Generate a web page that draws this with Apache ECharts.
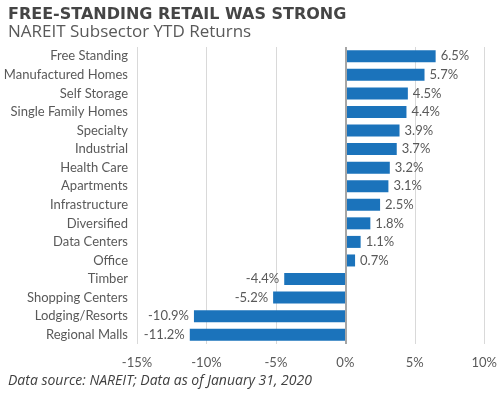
<!DOCTYPE html>
<html>
<head>
<meta charset="utf-8">
<style>
  html, body { margin: 0; padding: 0; background: #fff; }
  #chart { width: 500px; height: 396px; }
</style>
<script src="https://cdn.jsdelivr.net/npm/echarts@6/dist/echarts.min.js"></script>
</head>
<body>
<div id="chart"></div>
<script>
  // 子行业及年初至今回报 (%)
  var sectors = ['Free Standing', 'Manufactured Homes', 'Self Storage', 'Single Family Homes',
    'Specialty', 'Industrial', 'Health Care', 'Apartments', 'Infrastructure', 'Diversified',
    'Data Centers', 'Office', 'Timber', 'Shopping Centers', 'Lodging/Resorts', 'Regional Malls'];
  var returns = [6.5, 5.7, 4.5, 4.4, 3.9, 3.7, 3.2, 3.1, 2.5, 1.8, 1.1, 0.7, -4.4, -5.2, -10.9, -11.2];
  var tickMin = -15, tickMax = 10, tickStep = 5;

  var labelFont = 'Lato, "Open Sans", sans-serif';

  var barData = [];
  for (var i = 0; i < returns.length; i++) {
    barData.push({
      value: returns[i],
      label: { position: returns[i] < 0 ? 'left' : 'right' }
    });
  }

  var myChart = echarts.init(document.getElementById('chart'));
  var option = {
    animation: false,
    title: [{
      text: 'FREE-STANDING RETAIL WAS STRONG',
      left: 3, top: 2,
      textStyle: { fontFamily: '"DejaVu Sans", sans-serif', fontWeight: 'bold', fontSize: 16, color: '#454545' }
    }, {
      text: 'NAREIT Subsector YTD Returns',
      left: 3, top: 19,
      textStyle: { fontFamily: '"Open Sans", sans-serif', fontWeight: 'normal', fontSize: 17, color: '#595959' }
    }, {
      text: 'Data source: NAREIT; Data as of January 31, 2020',
      left: 3, top: 369,
      textStyle: { fontFamily: '"Open Sans", sans-serif', fontStyle: 'italic', fontWeight: 'normal', fontSize: 14, color: '#404040' }
    }],
    grid: { left: 137, right: 15, top: 47, bottom: 52 },
    xAxis: {
      type: 'value',
      min: tickMin, max: tickMax, interval: tickStep,
      axisLine: { show: false },
      axisTick: { show: false },
      splitLine: { lineStyle: { color: '#d9d9d9', width: 1 } },
      axisLabel: {
        formatter: '{value}%', margin: 12,
        fontFamily: labelFont, fontSize: 13, color: '#595959'
      }
    },
    yAxis: {
      type: 'category',
      data: sectors,
      inverse: true,
      axisLine: { show: false },
      axisTick: { show: false },
      axisLabel: { margin: 9, fontFamily: labelFont, fontSize: 13, color: '#595959' }
    },
    series: [{
      type: 'bar',
      data: barData,
      barWidth: 12,
      itemStyle: { color: '#1b73bb' },
      label: {
        show: true, distance: 5,
        fontFamily: labelFont, fontSize: 13, color: '#595959',
        formatter: function (p) { return p.value.toFixed(1) + '%'; }
      },
      markLine: {
        silent: true, symbol: 'none',
        label: { show: false },
        lineStyle: { color: '#a6a6a6', width: 2, type: 'solid' },
        data: [{ xAxis: 0 }]
      }
    }]
  };
  myChart.setOption(option);
</script>
</body>
</html>
